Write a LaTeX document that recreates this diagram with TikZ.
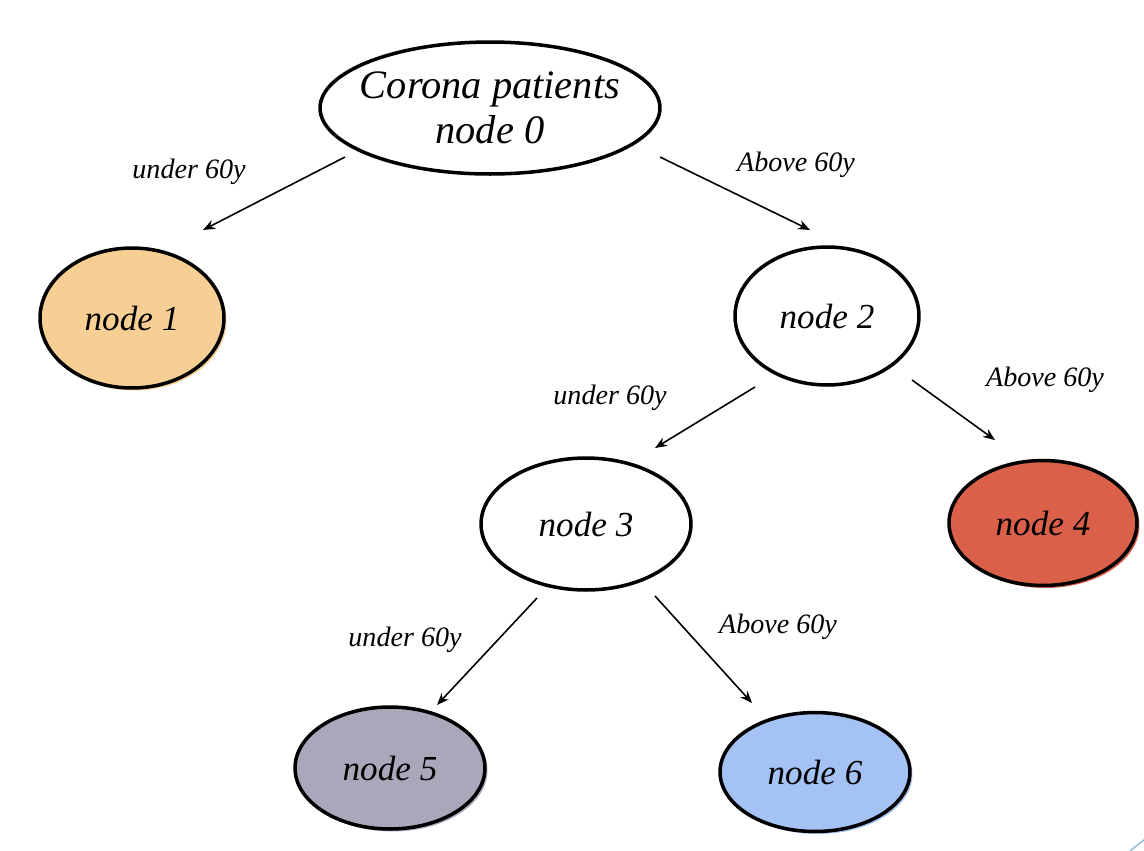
\documentclass[tikz,border=0pt]{standalone}
\usepackage{fontspec}
\setmainfont{Liberation Serif}
\usetikzlibrary{arrows.meta,shapes.geometric,shadows}
\definecolor{orangeA}{HTML}{F7CF94}
\definecolor{redA}{HTML}{DA6049}
\definecolor{greyA}{HTML}{A9A8BB}
\definecolor{blueA}{HTML}{A4C2F4}
\definecolor{cornerblue}{HTML}{8DB8DA}
\tikzset{
  blob/.style={ellipse, draw=black, line width=2pt, inner sep=0pt, outer sep=0pt,
    font=\fontsize{20}{24}\selectfont\itshape},
  tinted/.style={blob, fill=#1, general shadow={fill=#1, shadow xshift=0.05cm, shadow yshift=-0.05cm}},
  edgelabel/.style={font=\fontsize{16}{19}\selectfont\itshape, inner sep=0pt},
  conn/.style={-{Stealth[length=0.24cm,width=0.19cm]}, line width=0.9pt},
}
\begin{document}
\begin{tikzpicture}[x=0.02cm,y=-0.02cm]
\useasboundingbox (0,0) rectangle (1144,850);
\node[blob, fill=white, minimum width=6.8cm, minimum height=2.64cm, inner xsep=-0.25cm,
      align=center, font=\fontsize{23}{25.5}\selectfont\itshape] (n0) at (490,108) {Corona patients\\node 0};
\node[tinted=orangeA, minimum width=3.68cm, minimum height=2.8cm] (n1) at (132,318) {node 1};
\node[blob, fill=white, minimum width=3.68cm, minimum height=2.76cm] (n2) at (827,316) {node 2};
\node[blob, fill=white, minimum width=4.2cm, minimum height=2.64cm] (n3) at (586,524) {node 3};
\node[tinted=redA, minimum width=3.76cm, minimum height=2.5cm] (n4) at (1043,523) {node 4};
\node[tinted=greyA, minimum width=3.8cm, minimum height=2.44cm] (n5) at (390,768) {node 5};
\node[tinted=blueA, minimum width=3.8cm, minimum height=2.38cm] (n6) at (815,772) {node 6};

\draw[conn] ([shift={(-145,49)}]n0.center) -- ([shift={(71,-88)}]n1.center);
\draw[conn] ([shift={(170,49)}]n0.center) -- ([shift={(-17,-86)}]n2.center);
\draw[conn] ([shift={(-72,71)}]n2.center) -- ([shift={(69,-76)}]n3.center);
\draw[conn] ([shift={(85,64)}]n2.center) -- ([shift={(-48,-83)}]n4.center);
\draw[conn] ([shift={(-49,74)}]n3.center) -- ([shift={(47,-63)}]n5.center);
\draw[conn] ([shift={(69,72)}]n3.center) -- ([shift={(-63,-69)}]n6.center);

\node[edgelabel] (l01) at (189,172) {under 60y};
\node[edgelabel] (l02) at (796,165) {Above 60y};
\node[edgelabel] (l23) at (610,398) {under 60y};
\node[edgelabel] (l24) at (1045,380) {Above 60y};
\node[edgelabel] (l35) at (405,640) {under 60y};
\node[edgelabel] (l36) at (778,627) {Above 60y};

\draw[cornerblue, line width=0.8pt] (1130,851) -- (1145,839);
\end{tikzpicture}
\end{document}
